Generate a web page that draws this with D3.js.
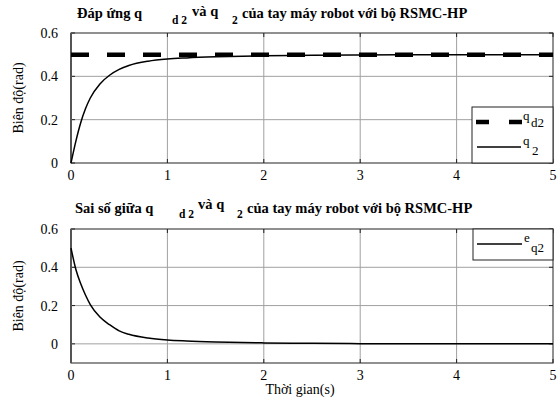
<!DOCTYPE html>
<html>
<head>
  <style>
    body { margin: 0; background: #fff; }
  </style>
</head>
<body>
  <div id="chart"></div>
  <script src="https://d3js.org/d3.v7.min.js"></script>
  <script>
    // Data
    const time = [0, 0.05, 0.1, 0.15, 0.2, 0.3, 0.4, 0.5, 0.6, 0.8, 1.0, 1.2, 1.5, 2, 2.5, 3, 4, 5];
    const q2 = [0, 0.10, 0.185, 0.25, 0.30, 0.365, 0.405, 0.432, 0.45, 0.47, 0.48, 0.485, 0.49, 0.495, 0.497, 0.499, 0.5, 0.5];
    const qd2 = [0.5, 0.5, 0.5, 0.5, 0.5, 0.5, 0.5, 0.5, 0.5, 0.5, 0.5, 0.5, 0.5, 0.5, 0.5, 0.5, 0.5, 0.5];
    const eq2 = [0.5, 0.39, 0.315, 0.255, 0.205, 0.14, 0.10, 0.068, 0.05, 0.03, 0.02, 0.015, 0.01, 0.005, 0.003, 0.001, 0, 0];
    const xTicks = [0, 1, 2, 3, 4, 5];
    const yTicksTop = [0, 0.2, 0.4, 0.6];
    const yTicksBottom = [0, 0.2, 0.4, 0.6];

    const FONT = "Liberation Serif, DejaVu Serif, serif";

    const svg = d3.select("#chart")
      .append("svg")
      .attr("width", 560)
      .attr("height", 402)
      .attr("font-family", FONT)
      .style("font-family", FONT);

    const x = d3.scaleLinear().domain([0, 5]).range([71, 553]);
    const yTop = d3.scaleLinear().domain([0, 0.6]).range([163, 33]);
    const yBot = d3.scaleLinear().domain([-0.1, 0.6]).range([363, 229]);

    function drawPanel(y, yTicks, labelY) {
      const g = svg.append("g");
      const [x0, x1] = x.range();
      const [y0, y1] = y.range();

      // grid
      g.selectAll(".gx").data(xTicks.slice(1, -1)).enter().append("line")
        .attr("x1", d => x(d)).attr("x2", d => x(d))
        .attr("y1", y1).attr("y2", y0)
        .attr("stroke", "#a0a0a0").attr("stroke-width", 1);
      g.selectAll(".gy").data(yTicks.filter(d => y(d) < y0 - 1 && y(d) > y1 + 1)).enter().append("line")
        .attr("x1", x0).attr("x2", x1)
        .attr("y1", d => y(d)).attr("y2", d => y(d))
        .attr("stroke", "#a0a0a0").attr("stroke-width", 1);

      // inward ticks
      g.selectAll(".tx").data(xTicks).enter().append("path")
        .attr("d", d => `M${x(d)},${y1}v4M${x(d)},${y0}v-4`)
        .attr("stroke", "#222");
      g.selectAll(".ty").data(yTicks).enter().append("path")
        .attr("d", d => `M${x0},${y(d)}h4M${x1},${y(d)}h-4`)
        .attr("stroke", "#222");

      // frame
      g.append("rect")
        .attr("x", x0).attr("y", y1)
        .attr("width", x1 - x0).attr("height", y0 - y1)
        .attr("fill", "none").attr("stroke", "#222").attr("stroke-width", 1);
      g.append("line")
        .attr("x1", x0).attr("x2", x0).attr("y1", y1).attr("y2", y0)
        .attr("stroke", "#555").attr("stroke-width", 2);

      // tick labels
      g.selectAll(".lx").data(xTicks).enter().append("text")
        .attr("x", d => x(d)).attr("y", y0 + 17)
        .attr("text-anchor", "middle")
        .attr("font-size", 14)
        .text(d => d);
      g.selectAll(".ly").data(yTicks).enter().append("text")
        .attr("x", x0 - 13).attr("y", d => y(d) + 5)
        .attr("text-anchor", "end")
        .attr("font-size", 14)
        .text(d => d === 0 ? "0" : d.toFixed(1));

      // y label
      g.append("text")
        .attr("transform", `translate(23,${labelY}) rotate(-90)`)
        .attr("text-anchor", "middle")
        .attr("font-size", 14)
        .text("Biên độ(rad)");
      return g;
    }

    function drawTitle(parts, baseY) {
      const t = svg.append("text")
        .attr("font-size", 14.5)
        .attr("font-weight", "bold");
      parts.forEach(p => {
        t.append("tspan")
          .attr("x", p.x)
          .attr("y", baseY + p.dy)
          .attr("font-size", p.size || 14.5)
          .text(p.text);
      });
    }

    // ---- top panel
    drawPanel(yTop, yTicksTop, 98);
    drawTitle([
      { text: "Đáp ứng q", x: 77, dy: 0 },
      { text: "d 2", x: 172, dy: 6, size: 11.5 },
      { text: "và q", x: 192, dy: -2 },
      { text: "2", x: 232, dy: 6, size: 11.5 },
      { text: "của tay máy robot với bộ RSMC-HP", x: 242, dy: 0 }
    ], 18);

    const line = (y, vals) => d3.line()
      .x((d, i) => x(time[i]))
      .y((d, i) => y(vals[i]))
      .curve(d3.curveMonotoneX)(vals);

    svg.append("path")
      .attr("d", line(yTop, q2))
      .attr("fill", "none").attr("stroke", "#000").attr("stroke-width", 1.5);
    svg.append("path")
      .attr("d", line(yTop, qd2))
      .attr("fill", "none").attr("stroke", "#000")
      .attr("stroke-width", 4.5).attr("stroke-dasharray", "18,18");

    // top legend
    const lgTop = svg.append("g");
    lgTop.append("rect")
      .attr("x", 472).attr("y", 107).attr("width", 81).attr("height", 56)
      .attr("fill", "#fff").attr("stroke", "#222");
    lgTop.append("line")
      .attr("x1", 476).attr("x2", 522).attr("y1", 122).attr("y2", 122)
      .attr("stroke", "#000").attr("stroke-width", 4.5).attr("stroke-dasharray", "13,20");
    lgTop.append("text").attr("x", 523).attr("y", 120).attr("font-size", 13).text("q");
    lgTop.append("text").attr("x", 531).attr("y", 127).attr("font-size", 13).text("d2");
    lgTop.append("line")
      .attr("x1", 477).attr("x2", 521).attr("y1", 147).attr("y2", 147)
      .attr("stroke", "#000").attr("stroke-width", 1.5);
    lgTop.append("text").attr("x", 523).attr("y", 145).attr("font-size", 13).text("q");
    lgTop.append("text").attr("x", 532).attr("y", 155).attr("font-size", 13).text("2");

    // ---- bottom panel
    drawPanel(yBot, yTicksBottom, 296);
    drawTitle([
      { text: "Sai số giữa q", x: 75, dy: 0 },
      { text: "d 2", x: 179, dy: 5, size: 11.5 },
      { text: "và q", x: 198, dy: -4 },
      { text: "2", x: 237, dy: 5, size: 11.5 },
      { text: "của tay máy robot với bộ RSMC-HP", x: 247, dy: 0 }
    ], 213);

    svg.append("path")
      .attr("d", line(yBot, eq2))
      .attr("fill", "none").attr("stroke", "#000").attr("stroke-width", 1.5);

    // bottom legend
    const lgBot = svg.append("g");
    lgBot.append("rect")
      .attr("x", 473).attr("y", 229).attr("width", 80).attr("height", 31)
      .attr("fill", "#fff").attr("stroke", "#222");
    lgBot.append("line")
      .attr("x1", 477).attr("x2", 522).attr("y1", 244).attr("y2", 244)
      .attr("stroke", "#000").attr("stroke-width", 1.5);
    lgBot.append("text").attr("x", 524).attr("y", 242).attr("font-size", 13).text("e");
    lgBot.append("text").attr("x", 531).attr("y", 252).attr("font-size", 13).text("q2");

    // x title
    svg.append("text")
      .attr("x", 300).attr("y", 394)
      .attr("text-anchor", "middle")
      .attr("font-size", 14)
      .text("Thời gian(s)");
  </script>
</body>
</html>
